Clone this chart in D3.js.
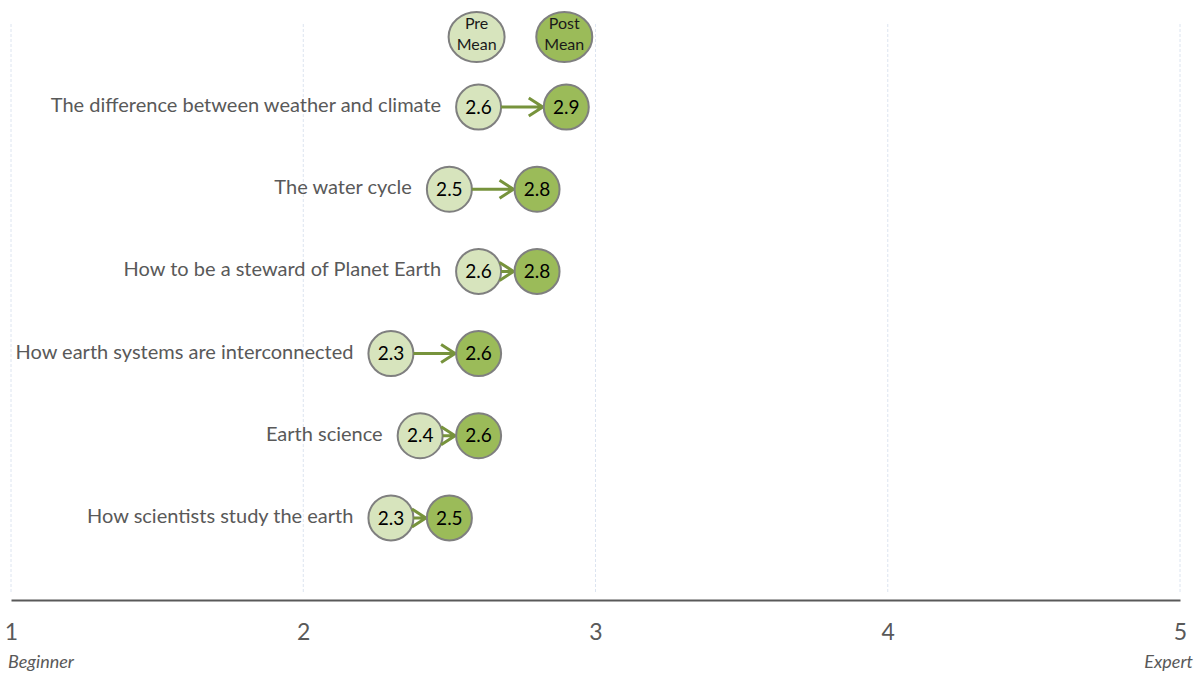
<!DOCTYPE html>
<html>
<head>
<meta charset="utf-8">
<script src="https://cdn.jsdelivr.net/npm/d3@7"></script>
<style>
  body { margin: 0; background: #fff; }
  text { font-family: Lato, "Open Sans", sans-serif; }
</style>
</head>
<body>
<div id="chart"></div>
<script>
// data
const topics = [
  "The difference between weather and climate",
  "The water cycle",
  "How to be a steward of Planet Earth",
  "How earth systems are interconnected",
  "Earth science",
  "How scientists study the earth"
];
const preMean = [2.6, 2.5, 2.6, 2.3, 2.4, 2.3];
const postMean = [2.9, 2.8, 2.8, 2.6, 2.6, 2.5];
const ticks = [1, 2, 3, 4, 5];
const endLabels = ["Beginner", "Expert"];

const data = topics.map((t, i) => ({ topic: t, pre: preMean[i], post: postMean[i] }));

/** CONSTANTS */
const width = 1203, height = 677,
  margin = { top: 24, bottom: 77, left: 11, right: 23 },
  r = 22.5,
  preFill = "#d7e4bd", postFill = "#9bbb59", ring = "#7f7f7f", arrowCol = "#77933c";

/** SCALES */
const x = d3.scaleLinear()
  .domain([1, 5])
  .range([margin.left, width - margin.right]);

const y = d3.scaleBand()
  .domain(topics)
  .range([66, 559]);

const svg = d3.select("#chart")
  .append("svg")
  .attr("width", width)
  .attr("height", height);

// grid
svg.selectAll("line.grid")
  .data(ticks)
  .join("line")
  .attr("class", "grid")
  .attr("x1", d => x(d)).attr("x2", d => x(d))
  .attr("y1", margin.top).attr("y2", height - margin.bottom - 6)
  .attr("stroke", "#dce4f0")
  .attr("stroke-width", 1)
  .attr("stroke-dasharray", "3,2");

// x axis
const axisY = height - margin.bottom;
const xAxis = d3.axisBottom(x).tickValues(ticks).tickSize(0).tickPadding(24).tickFormat(d3.format("d"));
const ax = svg.append("g")
  .attr("transform", `translate(0,${axisY})`)
  .call(xAxis);
ax.select(".domain").attr("stroke", "#595959").attr("stroke-width", 2);
ax.selectAll(".tick text")
  .attr("fill", "#595959")
  .style("font-size", "23px")
  .style("font-family", "Lato, 'Open Sans', sans-serif");

svg.append("text")
  .attr("x", x(1) - 3).attr("y", 668)
  .attr("fill", "#595959")
  .style("font-size", "18px").style("font-style", "italic")
  .text(endLabels[0]);
svg.append("text")
  .attr("x", x(5) + 13).attr("y", 668)
  .attr("text-anchor", "end")
  .attr("fill", "#595959")
  .style("font-size", "18px").style("font-style", "italic")
  .text(endLabels[1]);

// legend
const legend = [
  { lab: ["Pre", "Mean"], v: preMean[0], fill: preFill },
  { lab: ["Post", "Mean"], v: postMean[0], fill: postFill }
];
const lg = svg.selectAll("g.legend")
  .data(legend)
  .join("g")
  .attr("class", "legend")
  .attr("transform", d => `translate(${x(d.v) - 2},37)`);
lg.append("ellipse")
  .attr("rx", 28).attr("ry", 25)
  .attr("fill", d => d.fill)
  .attr("stroke", ring).attr("stroke-width", 2);
lg.selectAll("text")
  .data(d => d.lab)
  .join("text")
  .attr("text-anchor", "middle")
  .attr("y", (d, i) => i === 0 ? -14 : 7)
  .attr("dy", "0.35em")
  .style("font-size", "16px")
  .attr("fill", "#1a1a1a")
  .text(d => d);

const rows = svg.selectAll("g.row")
  .data(data)
  .join("g")
  .attr("class", "row")
  .attr("transform", d => `translate(0,${y(d.topic) + y.bandwidth() / 2})`);

// labels
rows.append("text")
  .attr("x", d => x(d.pre) - r - 15)
  .attr("y", -2)
  .attr("dy", "0.35em")
  .attr("text-anchor", "end")
  .attr("fill", "#595959")
  .style("font-size", "20px")
  .text(d => d.topic);

// pre circles
rows.append("circle")
  .attr("cx", d => x(d.pre))
  .attr("r", r)
  .attr("fill", preFill)
  .attr("stroke", ring).attr("stroke-width", 2);

// arrows
rows.append("path")
  .attr("d", d => {
    const p = d3.path();
    const x0 = x(d.pre) + r, x1 = x(d.post) - r - 1;
    p.moveTo(x0, 0); p.lineTo(x1, 0);
    p.moveTo(x1 - 14, -9); p.lineTo(x1, 0); p.lineTo(x1 - 14, 9);
    return p.toString();
  })
  .attr("fill", "none")
  .attr("stroke", arrowCol)
  .attr("stroke-width", 3);

// post circles
rows.append("circle")
  .attr("cx", d => x(d.post))
  .attr("r", r)
  .attr("fill", postFill)
  .attr("stroke", ring).attr("stroke-width", 2);

// values
rows.selectAll("text.val")
  .data(d => [d.pre, d.post])
  .join("text")
  .attr("class", "val")
  .attr("x", d => x(d))
  .attr("dy", "0.35em")
  .attr("text-anchor", "middle")
  .attr("fill", "#000")
  .style("font-size", "19px")
  .text(d => d3.format(".1f")(d));
</script>
</body>
</html>
